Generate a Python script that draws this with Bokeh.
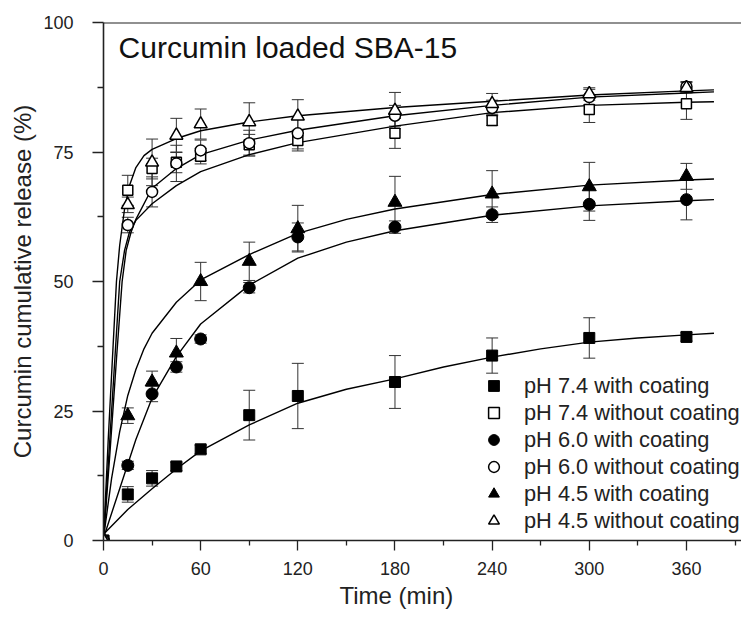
from bokeh.plotting import figure
from bokeh.models import (Range1d, FixedTicker, Whisker, ColumnDataSource, Legend,
                          LegendItem, Label, Span, TeeHead, Title)
from bokeh.embed import file_html
from bokeh.resources import INLINE

FONT = "Liberation Sans"

# ---------------- data ----------------
time_min = [0, 15, 30, 45, 60, 90, 120, 180, 240, 300, 360]

ph74_coat = [0, 8.9, 12.0, 14.3, 17.6, 24.2, 27.9, 30.6, 35.7, 39.1, 39.3]
ph74_coat_err = [0, 1.5, 1.5, 0.8, 0.8, 4.8, 6.3, 5.1, 3.4, 3.9, 0.8]
ph74_bare = [0, 67.6, 71.8, 73.0, 74.2, 76.4, 77.2, 78.6, 81.1, 83.2, 84.3]
ph74_bare_err = [0, 2.9, 2.0, 2.0, 1.5, 2.0, 2.0, 2.9, 1.0, 2.5, 3.0]
ph60_coat = [0, 14.5, 28.3, 33.5, 38.9, 48.8, 58.6, 60.5, 62.9, 64.9, 65.8]
ph60_coat_err = [0, 0.8, 1.5, 1.0, 0.8, 1.0, 2.7, 1.2, 1.5, 3.1, 3.9]
ph60_bare = [0, 60.9, 67.3, 72.8, 75.3, 76.7, 78.6, 82.0, 83.5, 85.6, 87.6]
ph60_bare_err = [0, 1.5, 2.9, 3.5, 2.0, 2.5, 3.0, 2.0, 1.5, 1.5, 1.0]
ph45_coat = [0, 24.1, 30.6, 36.2, 50.0, 53.9, 60.2, 65.3, 66.9, 68.3, 70.3]
ph45_coat_err = [0, 1.5, 2.1, 2.8, 3.7, 3.7, 4.5, 5.0, 4.5, 4.7, 2.5]
ph45_bare = [0, 64.8, 73.0, 78.2, 80.4, 80.8, 81.9, 83.0, 84.3, 86.2, 87.4]
ph45_bare_err = [0, 1.5, 4.5, 3.3, 2.9, 3.7, 3.2, 3.5, 2.0, 1.2, 1.0]

# fitted curves, read point by point
fit74_coat_t = [0, 15, 30, 45, 60, 90, 120, 150, 180, 210, 240, 270, 300, 330, 360, 377]
fit74_coat_y = [1.2, 6.0, 10.0, 13.8, 17.3, 22.3, 26.5, 29.2, 31.2, 33.5, 35.4, 37.0, 38.3, 39.1, 39.7, 40.0]
fit74_bare_t = [0, 4, 8, 10, 13, 16, 20, 30, 45, 60, 90, 120, 180, 240, 300, 360, 377]
fit74_bare_y = [0, 20, 40, 50, 56, 59.5, 61.8, 65, 68.5, 71.2, 74.5, 76.8, 80, 82.6, 84, 84.6, 84.7]
fit60_coat_t = [0, 10, 20, 30, 45, 60, 90, 120, 150, 180, 240, 300, 360, 377]
fit60_coat_y = [0.5, 10, 19.5, 27.5, 35.5, 41.8, 49.3, 54.5, 57.6, 59.8, 62.8, 64.6, 65.6, 65.8]
fit60_bare_t = [0, 4, 8, 11.5, 14, 17, 20, 30, 45, 60, 90, 120, 180, 240, 300, 360, 377]
fit60_bare_y = [0, 17, 35, 50, 56, 59.5, 62, 68, 71.8, 74.5, 77.3, 79.2, 82, 84, 85.6, 86.4, 86.6]
fit45_coat_t = [0, 5, 10, 15, 20, 25, 30, 45, 60, 90, 120, 150, 180, 240, 300, 360, 377]
fit45_coat_y = [0.5, 12, 21, 28, 33, 37, 40, 46, 50.3, 55.2, 59.3, 62, 64, 66.8, 68.6, 69.6, 69.8]
fit45_bare_t = [0, 3, 6, 8, 10, 13, 16, 20, 25, 30, 45, 60, 90, 120, 180, 240, 300, 360, 377]
fit45_bare_y = [0, 20, 38, 50, 57, 64, 68.5, 72, 74.3, 75.5, 77.6, 79.1, 80.8, 82, 83.6, 84.8, 86, 86.8, 87.0]

labels = ["pH 7.4 with coating", "pH 7.4 without coating", "pH 6.0 with coating",
          "pH 6.0 without coating", "pH 4.5 with coating", "pH 4.5 without coating"]
x_major = [0, 60, 120, 180, 240, 300, 360]
x_minor = [30, 90, 150, 210, 270, 330, 390]
y_major = [0, 25, 50, 75, 100]
y_minor = [12.5, 37.5, 62.5, 87.5]

title_text = "Curcumin loaded SBA-15"
x_title = "Time (min)"
y_title = "Curcumin cumulative release (%)"

# ---------------- figure ----------------
p = figure(width=741, height=611, output_backend="svg", toolbar_location=None,
           x_range=Range1d(0, 394), y_range=Range1d(0, 100),
           min_border_left=103, min_border_top=22, min_border_right=0, min_border_bottom=71)
p.grid.visible = False
p.outline_line_color = None
p.background_fill_color = "white"

AX = "#222222"
for ax in (p.xaxis[0], p.yaxis[0]):
    ax.axis_line_color = AX
    ax.axis_line_width = 1.6
    ax.major_tick_line_color = AX
    ax.minor_tick_line_color = AX
    ax.major_tick_line_width = 1.3
    ax.minor_tick_line_width = 1.3
    ax.major_tick_in = 0
    ax.minor_tick_in = 0
    ax.major_label_text_font = FONT
    ax.major_label_text_font_size = "18px"
    ax.major_label_text_color = AX
    ax.axis_label_text_font = FONT
    ax.axis_label_text_font_style = "normal"
    ax.axis_label_text_color = AX

p.xaxis.ticker = FixedTicker(ticks=x_major, minor_ticks=x_minor)
p.xaxis.major_tick_out = 10
p.xaxis.minor_tick_out = 5
p.xaxis.major_label_standoff = 11

p.yaxis.ticker = FixedTicker(ticks=y_major, minor_ticks=y_minor)
p.yaxis.major_tick_out = 11
p.yaxis.minor_tick_out = 6
p.yaxis.major_label_standoff = 19
p.yaxis.axis_label = y_title
p.yaxis.axis_label_text_font_size = "24px"
p.yaxis.axis_label_standoff = 4

p.add_layout(Span(location=100, dimension="width", line_color=AX, line_width=2))

# fitted curves
for tt, yy in [(fit74_coat_t, fit74_coat_y), (fit74_bare_t, fit74_bare_y),
               (fit60_coat_t, fit60_coat_y), (fit60_bare_t, fit60_bare_y),
               (fit45_coat_t, fit45_coat_y), (fit45_bare_t, fit45_bare_y)]:
    p.line(tt, yy, line_color="black", line_width=1.4)

series = [
    (ph74_coat, ph74_coat_err, "square", True, 11),
    (ph74_bare, ph74_bare_err, "square", False, 10),
    (ph60_coat, ph60_coat_err, "circle", True, 12),
    (ph60_bare, ph60_bare_err, "circle", False, 11),
    (ph45_coat, ph45_coat_err, "triangle", True, 14),
    (ph45_bare, ph45_bare_err, "triangle", False, 13),
]

items = []
for (vals, errs, marker, filled, size), lab in zip(series, labels):
    bt = [t for t, e in zip(time_min, errs) if e > 0]
    hi = [v + e for v, e in zip(vals, errs) if e > 0]
    lo = [v - e for v, e in zip(vals, errs) if e > 0]
    src = ColumnDataSource(dict(t=bt, hi=hi, lo=lo))
    w = Whisker(source=src, base="t", upper="hi", lower="lo", line_color="#333333", line_width=1,
                upper_head=TeeHead(size=12, line_color="#333333", line_width=1),
                lower_head=TeeHead(size=12, line_color="#333333", line_width=1))
    p.add_layout(w)
    r = p.scatter(time_min, vals, marker=marker, size=size,
                  fill_color="black" if filled else "white",
                  line_color="black", line_width=1.0 if filled else 1.5)
    items.append(LegendItem(label=lab, renderers=[r]))

legend = Legend(items=items, location=(377, 6), padding=0, spacing=0, margin=0,
                glyph_width=27, glyph_height=27, label_height=27, label_standoff=17,
                label_text_font=FONT, label_text_font_size="21.8px", label_text_color=AX,
                border_line_color=None, background_fill_alpha=0)
p.add_layout(legend, "center")

p.add_layout(Label(x=9.3, y=95.2, text=title_text, text_font=FONT,
                   text_font_size="30px", text_color="#111111", text_baseline="middle"))

xt = Title(text=x_title, align="left", offset=236, standoff=4, text_font=FONT,
           text_font_size="24px", text_font_style="normal", text_color=AX)
p.add_layout(xt, "below")

open("out.html", "w").write(file_html(p, INLINE))
